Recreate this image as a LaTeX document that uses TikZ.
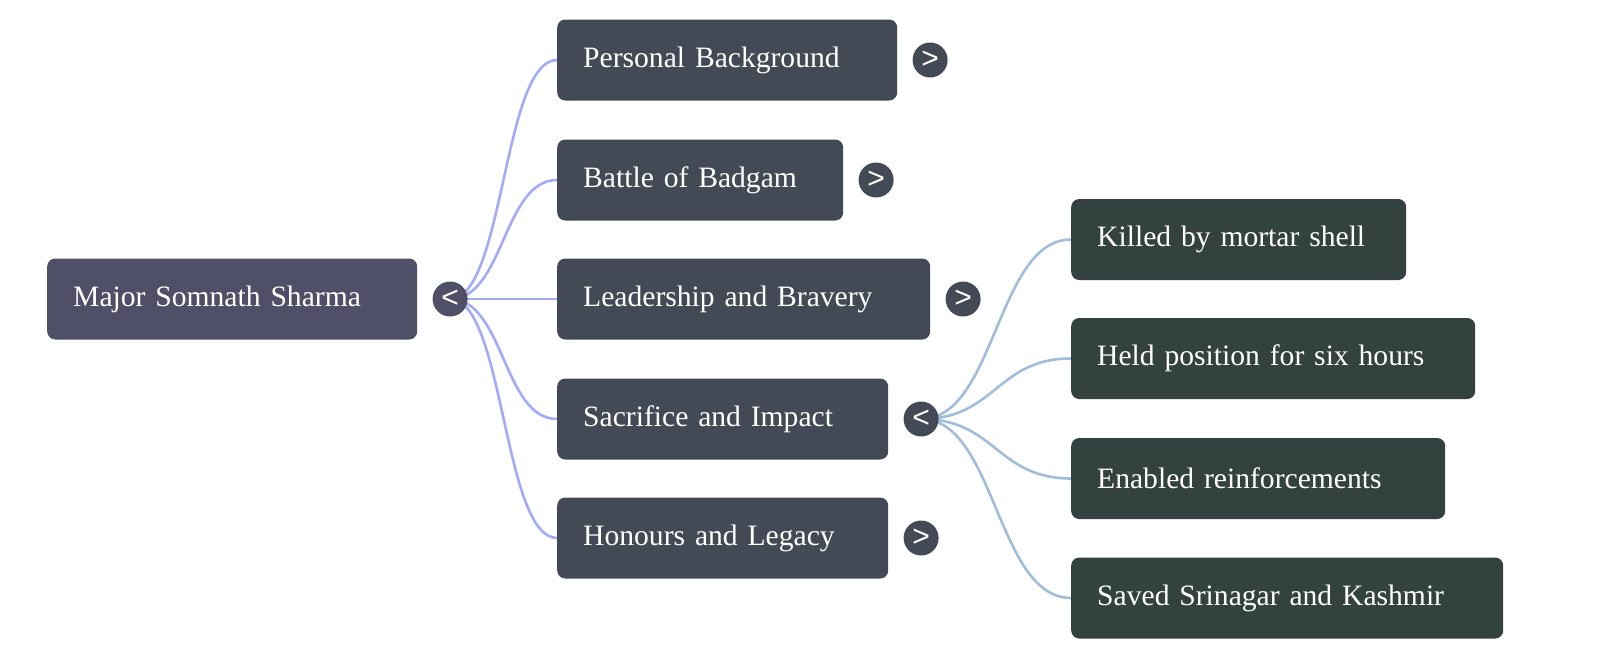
\documentclass[tikz,border=0pt]{standalone}
\usepackage{fontspec}
\setmainfont{Liberation Serif}
\newfontfamily\togglefont{Liberation Sans}
\usepackage{xcolor}
\definecolor{rootfill}{HTML}{4f5068}
\definecolor{branchfill}{HTML}{434a55}
\definecolor{leaffill}{HTML}{33423f}
\definecolor{branchline}{HTML}{a3aaf8}
\definecolor{leafline}{HTML}{a2bddb}
\usetikzlibrary{positioning,backgrounds}

\begin{document}
\begin{tikzpicture}[x=1pt,y=1pt,yscale=-1,xscale=1,
	box/.style={anchor=west,rounded corners=8pt,text=white,inner xsep=26pt,inner ysep=0pt,minimum height=81pt,align=left,font=\fontsize{29.6}{36}\selectfont},
	rootbox/.style={box,fill=rootfill},
	branchbox/.style={box,fill=branchfill},
	leafbox/.style={box,fill=leaffill},
	toggle/.style={circle,fill=#1,text=white,inner sep=0pt,minimum size=35pt,font=\togglefont\fontsize{30}{30}\selectfont},
	link/.style={line width=2.6pt,draw=#1}]
	\useasboundingbox (0,0) rectangle (1600,657);
	\node [rootbox,text width=318pt] (somnath) at (47,299) {Major Somnath Sharma};
	\node [toggle=rootfill,right=15pt of somnath] (somnathtg) {<};
	\node [branchbox,text width=288pt] (background) at (557,60) {Personal Background};
	\node [branchbox,text width=234pt] (badgam) at (557,180) {Battle of Badgam};
	\node [branchbox,text width=321pt] (bravery) at (557,299) {Leadership and Bravery};
	\node [branchbox,text width=279pt] (sacrifice) at (557,419) {Sacrifice and Impact};
	\node [branchbox,text width=279pt] (legacy) at (557,538) {Honours and Legacy};
	\node [toggle=branchfill,right=15pt of background] (backgroundtg) {>};
	\node [toggle=branchfill,right=15pt of badgam] (badgamtg) {>};
	\node [toggle=branchfill,right=15pt of bravery] (braverytg) {>};
	\node [toggle=branchfill,right=15pt of sacrifice] (sacrificetg) {<};
	\node [toggle=branchfill,right=15pt of legacy] (legacytg) {>};
	\node [leafbox,text width=283pt] (mortar) at (1071,239.5) {Killed by mortar shell};
	\node [leafbox,text width=352pt] (position) at (1071,358.5) {Held position for six hours};
	\node [leafbox,text width=322pt] (reinforce) at (1071,478.5) {Enabled reinforcements};
	\node [leafbox,text width=380pt] (srinagar) at (1071,598) {Saved Srinagar and Kashmir};
	\begin{scope}[on background layer]
	\foreach \kid in {background,badgam,bravery,sacrifice,legacy}
		\draw [link=branchline] (somnathtg.center) .. controls +(54,0) and +(-54,0) .. (\kid.west);
	\foreach \kid in {mortar,position,reinforce,srinagar}
		\draw [link=leafline] (sacrificetg.center) .. controls +(74.5,0) and +(-74.5,0) .. (\kid.west);
	\end{scope}
\end{tikzpicture}
\end{document}
